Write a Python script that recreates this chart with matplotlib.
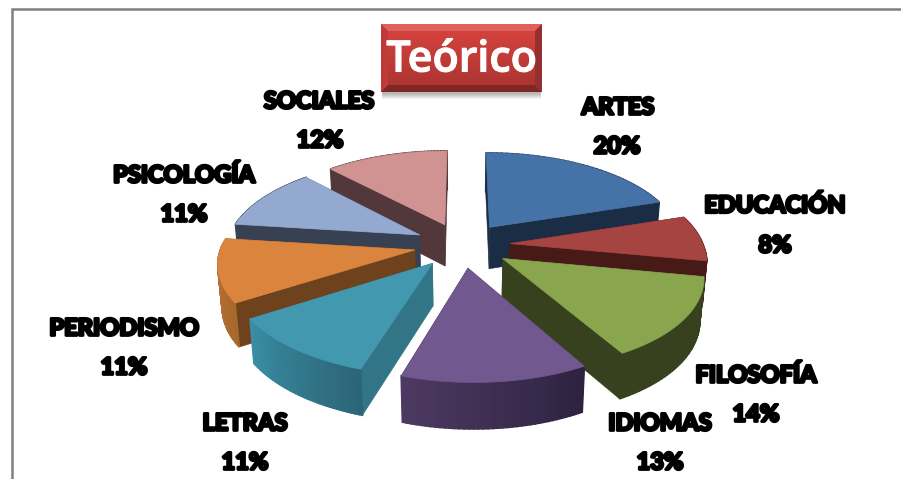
import matplotlib
matplotlib.use('Agg')
import matplotlib.pyplot as plt
import matplotlib.patheffects as pe
from matplotlib.colors import to_rgb
from matplotlib.patches import Polygon, Rectangle
import numpy as np

labels = ['ARTES', 'EDUCACIÓN', 'FILOSOFÍA', 'IDIOMAS', 'LETRAS', 'PERIODISMO', 'PSICOLOGÍA', 'SOCIALES']
values = [20, 8, 14, 13, 11, 11, 11, 12]

top_colors = ['#4572a7', '#a64442', '#89a54e', '#71588f', '#4198af', '#db843d', '#93a9cf', '#d09391']
side_colors = ['#1b2d45', '#471a17', '#38411e', '#3a2a50', '#317586', '#6e421c', '#374152', '#52383a']
arc_left = ['#2a4566', '#6a2a28', '#38411e', '#4d3a62', '#3a8ea6', '#c57a36', '#4a5870', '#6a4a4a']
arc_right = ['#1b2d45', '#471a17', '#38411e', '#2e2240', '#2c6676', '#a8682c', '#374152', '#52383a']

label_pos = [(618, 107), (775, 205), (756, 375), (660, 423), (245, 423), (124, 328), (184, 175), (319, 101)]
pct_pos = [(617, 146), (775, 245), (756, 414), (660, 462), (245, 462), (124, 367), (184, 214), (320, 140)]

# pie geometry, in pixels of the picture
cx, cy = 462, 245
rx, ry = 193, 90
persp = 0.146
explode = 0.25
depth = 42
skew = 5


def project(u, v, down=0.0):
    s = 1 / (1 - persp * v)
    shrink = 1 - 0.018 * down
    # the front of the pie leans a little to the right in the reference
    x = cx + rx * u * s * shrink + skew * np.clip(v, 0, None)
    y = cy + ry * v * s + down * depth * s ** 0.5
    return x, y


def ring(points, down=0.0):
    xs, ys = project(points[:, 0], points[:, 1], down)
    return np.column_stack([xs, ys])


def mix(c1, c2, t):
    return tuple((1 - t) * np.array(to_rgb(c1)) + t * np.array(to_rgb(c2)))


fig = plt.figure(figsize=(9.01, 4.79), dpi=100)
ax = fig.add_axes([0, 0, 1, 1])
ax.set_xlim(0, 901)
ax.set_ylim(479, 0)
ax.axis('off')

# chart frame, open on the right and at the bottom
ax.plot([12, 12, 901], [479, 9, 9], color='#808080', lw=1.8, solid_joinstyle='miter')

edges = np.cumsum([0] + values) / sum(values) * 2 * np.pi
slices = []
for i in range(len(values)):
    mid = (edges[i] + edges[i + 1]) / 2
    off = explode * np.array([np.sin(mid), -np.cos(mid)])
    a = np.linspace(edges[i], edges[i + 1], 40)
    arc = off + np.column_stack([np.sin(a), -np.cos(a)])
    slices.append((off[1], i, off, arc))

# paint from the back of the pie to the front
for _, i, off, arc in sorted(slices, key=lambda s: s[0]):
    faces = []
    for end in (arc[0], arc[-1]):
        quad = np.array([off, end])
        pts = np.vstack([ring(quad), ring(quad[::-1], 1.0)])
        faces.append(((off[1] + end[1]) / 2, pts, side_colors[i], 0.4))
    for j in range(len(arc) - 1):
        quad = arc[j:j + 2]
        pts = np.vstack([ring(quad), ring(quad[::-1], 1.0)])
        # gradient runs from left to right across the outer wall
        t = j / (len(arc) - 2)
        if arc[0][0] < arc[-1][0]:
            col = mix(arc_left[i], arc_right[i], t)
        else:
            col = mix(arc_right[i], arc_left[i], t)
        faces.append((quad[:, 1].mean(), pts, col, 1.2))
    for _, pts, col, lw in sorted(faces, key=lambda f: f[0]):
        ax.add_patch(Polygon(pts, closed=True, fc=col, ec=col, lw=lw))
    top = ring(np.vstack([off, arc]))
    ax.add_patch(Polygon(top, closed=True, fc=top_colors[i], ec=top_colors[i], lw=0.5))

# title button
bx0, bx1, by0, by1 = 381, 542, 24, 92
for k in range(6):
    ax.add_patch(Rectangle((bx0 + 1, by0 + 2), bx1 - bx0 - 2, by1 - by0 + k, fc='#000000', alpha=0.05, ec='none'))
grad = np.linspace(0, 1, 64).reshape(-1, 1)
rgb = np.array([mix('#d9443f', '#a83330', t) for t in grad[:, 0]]).reshape(64, 1, 3)
ax.imshow(rgb, extent=(bx0, bx1, by1, by0), aspect='auto', zorder=3)
ax.set_xlim(0, 901)
ax.set_ylim(479, 0)
b = 7
bevels = [
    ([(bx0, by0), (bx1, by0), (bx1 - b, by0 + b), (bx0 + b, by0 + b)], '#e2605c'),
    ([(bx0, by1), (bx1, by1), (bx1 - b, by1 - b), (bx0 + b, by1 - b)], '#7e2725'),
    ([(bx0, by0), (bx0 + b, by0 + b), (bx0 + b, by1 - b), (bx0, by1)], '#c03a37'),
    ([(bx1, by0), (bx1 - b, by0 + b), (bx1 - b, by1 - b), (bx1, by1)], '#963030'),
]
for pts, col in bevels:
    ax.add_patch(Polygon(pts, closed=True, fc=col, ec='none', zorder=4))
ax.text((bx0 + bx1) / 2, 60, 'Teórico', color='white', fontsize=31, family='Open Sans',
        weight='semibold', ha='center', va='center', zorder=5,
        path_effects=[pe.withStroke(linewidth=0.8, foreground='white')])

heavy = [pe.withStroke(linewidth=2.0, foreground='black')]
for name, value, p1, p2 in zip(labels, values, label_pos, pct_pos):
    ax.text(p1[0], p1[1], name, fontsize=17, family='Lato', weight='black', color='black',
            ha='center', va='center', path_effects=heavy, zorder=6)
    ax.text(p2[0], p2[1], f'{value}%', fontsize=17, family='Lato', weight='black', color='black',
            ha='center', va='center', path_effects=heavy, zorder=6)

fig.savefig('out.png', dpi=100)
